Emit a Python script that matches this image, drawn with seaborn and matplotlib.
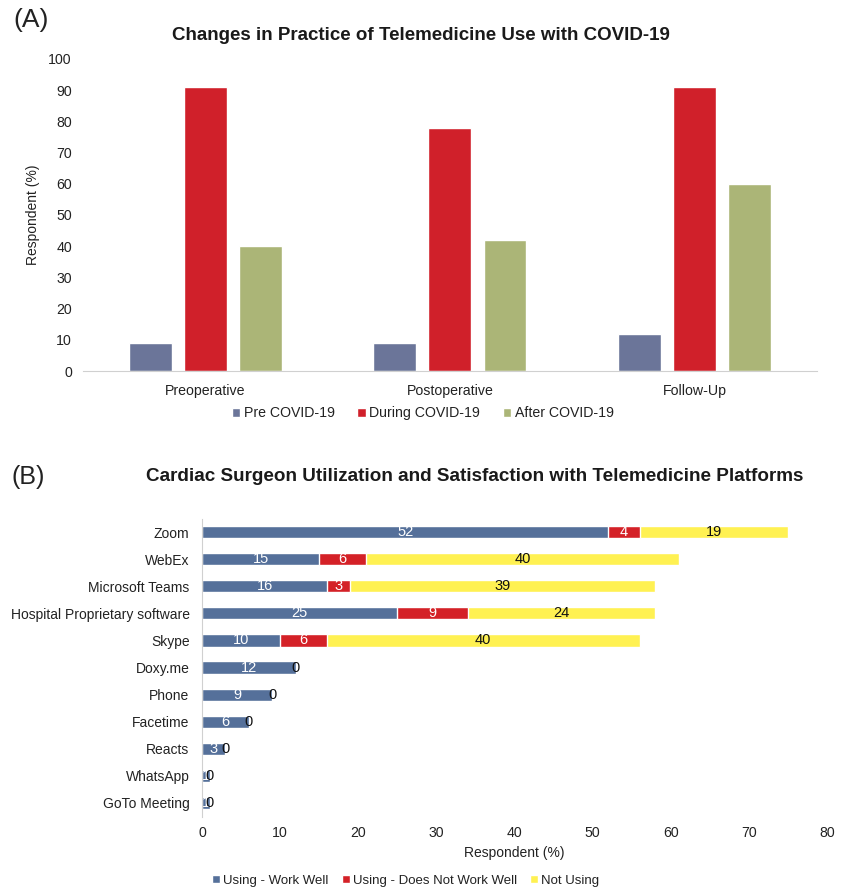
import numpy as np
import pandas as pd
import matplotlib.pyplot as plt
import seaborn as sns

sns.set_style("white")
plt.rcParams['font.family'] = ['Liberation Sans', 'DejaVu Sans']

# ---- data: panel A ----
stages = ["Preoperative", "Postoperative", "Follow-Up"]
periods = ["Pre COVID-19", "During COVID-19", "After COVID-19"]
pre_covid = [9, 9, 12]
during_covid = [91, 78, 91]
after_covid = [40, 42, 60]

# ---- data: panel B ----
platforms = ["Zoom", "WebEx", "Microsoft Teams", "Hospital Proprietary software",
             "Skype", "Doxy.me", "Phone", "Facetime", "Reacts", "WhatsApp",
             "GoTo Meeting"]
work_well = [52, 15, 16, 25, 10, 12, 9, 6, 3, 1, 1]
not_work_well = [4, 6, 3, 9, 6, 0, 0, 0, 0, 0, 0]
not_using = [19, 40, 39, 24, 40, 0, 0, 0, 0, 0, 0]

colors_a = ["#6b7599", "#d0202a", "#abb577"]
colors_b = ["#55709a", "#d42127", "#fff152"]
TXT = "#222222"

fig = plt.figure(figsize=(8.51, 8.91), dpi=100)

# ---------- Panel A ----------
df_a = pd.DataFrame({
    "stage": np.repeat(stages, 3),
    "period": periods * 3,
    "value": [v for trio in zip(pre_covid, during_covid, after_covid) for v in trio],
})
ax1 = fig.add_axes([0.0975, 0.5836, 0.8625, 0.3502])
sns.barplot(data=df_a, x="stage", y="value", hue="period", hue_order=periods,
            palette=colors_a, width=0.675, gap=0.22, saturation=1, ax=ax1)
ax1.set_xlim(-0.5, 2.5)
ax1.set_ylim(0, 100)
ax1.set_yticks(range(0, 101, 10))
ax1.set_xlabel("")
ax1.set_ylabel("Respondent (%)", fontsize=10, color=TXT, labelpad=6)
ax1.tick_params(axis="both", labelsize=10.2, colors=TXT, length=0)
ax1.tick_params(axis="y", pad=8)
ax1.tick_params(axis="x", pad=9)
for s in ["top", "right", "left"]:
    ax1.spines[s].set_visible(False)
ax1.spines["bottom"].set_color("#d0d0d0")
ax1.legend(loc="upper center", bbox_to_anchor=(0.463, -0.072), ncol=3, frameon=False,
           fontsize=10.2, handlelength=0.6, handleheight=0.6, handletextpad=0.25,
           columnspacing=1.6, labelcolor=TXT)
fig.text(0.495, 0.9607, "Changes in Practice of Telemedicine Use with COVID-19",
         fontsize=13.5, fontweight="bold", color="#1a1a1a", ha="center", va="center")
fig.text(0.016, 0.978, "(A)", fontsize=19, va="center", color=TXT)

# ---------- Panel B ----------
df_b = pd.DataFrame({
    "platform": platforms,
    "work_well": work_well,
    "not_work_well": not_work_well,
    "not_using": not_using,
})
df_b["total"] = df_b["work_well"] + df_b["not_work_well"] + df_b["not_using"]
df_b["upto_red"] = df_b["work_well"] + df_b["not_work_well"]

ax2 = fig.add_axes([0.2374, 0.0836, 0.7344, 0.3344])
sns.barplot(data=df_b, y="platform", x="total", color=colors_b[2], width=0.45,
            saturation=1, label="Not Using", ax=ax2)
sns.barplot(data=df_b, y="platform", x="upto_red", color=colors_b[1], width=0.45,
            saturation=1, label="Using - Does Not Work Well", ax=ax2)
sns.barplot(data=df_b, y="platform", x="work_well", color=colors_b[0], width=0.45,
            saturation=1, label="Using - Work Well", ax=ax2)

for i, row in df_b.iterrows():
    ax2.text(row["work_well"] / 2, i, str(row["work_well"]), ha="center",
             va="center", color="white", fontsize=10.5)
    if row["not_work_well"] > 0:
        ax2.text(row["work_well"] + row["not_work_well"] / 2, i,
                 str(row["not_work_well"]), ha="center", va="center",
                 color="white", fontsize=10.5)
    ax2.text(row["upto_red"] + row["not_using"] / 2, i, str(row["not_using"]),
             ha="center", va="center", color="#111111", fontsize=10.5)

ax2.set_xlim(0, 80)
ax2.set_ylim(10.5, -0.5)
ax2.set_xticks(range(0, 81, 10))
ax2.set_xlabel("Respondent (%)", fontsize=10, color=TXT, labelpad=4)
ax2.set_ylabel("")
ax2.tick_params(axis="both", colors=TXT, length=0)
ax2.tick_params(axis="y", labelsize=10, pad=9)
ax2.tick_params(axis="x", labelsize=10.2, pad=7)
for s in ["top", "right", "bottom"]:
    ax2.spines[s].set_visible(False)
ax2.spines["left"].set_color("#d0d0d0")

handles, labels = ax2.get_legend_handles_labels()
order = [labels.index(l) for l in ["Using - Work Well", "Using - Does Not Work Well", "Not Using"]]
ax2.legend([handles[k] for k in order], [labels[k] for k in order],
           loc="upper center", bbox_to_anchor=(0.326, -0.155), ncol=3, frameon=False,
           fontsize=9.5, handlelength=0.6, handleheight=0.6,
           handletextpad=0.25, columnspacing=1.0, labelcolor=TXT)

fig.text(0.558, 0.465, "Cardiac Surgeon Utilization and Satisfaction with Telemedicine Platforms",
         fontsize=13.6, fontweight="bold", color="#1a1a1a", ha="center", va="center")
fig.text(0.014, 0.465, "(B)", fontsize=18, va="center", color=TXT)

fig.savefig("out.png", dpi=100, facecolor="white")
